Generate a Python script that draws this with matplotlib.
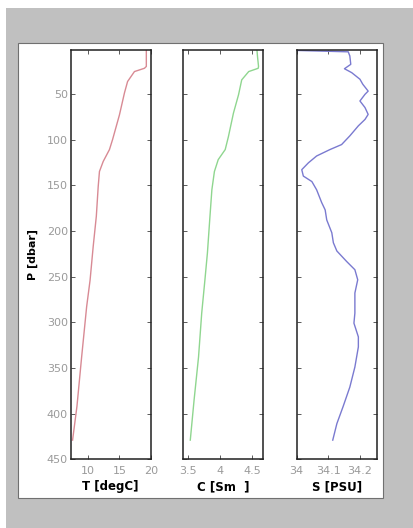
import matplotlib

matplotlib.use("Agg")
import matplotlib.pyplot as plt
from matplotlib.patches import Rectangle

# CTD cast: pressure [dbar] against each variable
p_t = [2, 20, 22, 25.6, 36.5, 49, 73, 100, 111, 124, 135, 151.5, 184, 217, 254, 283, 338, 392, 429]
temp = [19.3, 19.3, 19.0, 17.4, 16.3, 15.8, 15.0, 13.9, 13.4, 12.4, 11.8, 11.6, 11.3, 10.8, 10.3, 9.75, 8.95, 8.2, 7.5]

p_c = [2, 10, 20, 22, 25.6, 34.7, 51, 71, 97, 111, 122, 135, 155, 184, 224, 254, 290, 338, 385, 429]
cond = [4.58, 4.59, 4.605, 4.6, 4.45, 4.34, 4.29, 4.21, 4.13, 4.08, 3.97, 3.91, 3.87, 3.84, 3.80, 3.76, 3.71, 3.66, 3.59, 3.53]

p_s = [2, 4, 8.5, 17.7, 22.5, 26.8, 34, 39.5, 47, 50.5, 57.8, 65, 72.5, 78, 85, 96, 105.5,
       111, 118, 125.5, 133, 140, 146, 155, 169, 177, 188, 202, 213, 222, 233.5, 242.5,
       253.5, 268, 290, 301, 316, 327, 349, 371, 392, 411, 429]
sal = [33.95, 34.163, 34.168, 34.171, 34.151, 34.174, 34.2, 34.209, 34.226, 34.216, 34.2,
       34.216, 34.226, 34.216, 34.195, 34.168, 34.142, 34.105, 34.063, 34.037, 34.016,
       34.021, 34.048, 34.063, 34.079, 34.09, 34.095, 34.111, 34.116, 34.127, 34.158,
       34.184, 34.193, 34.184, 34.184, 34.181, 34.195, 34.195, 34.184, 34.168, 34.147,
       34.127, 34.114]

W, H = 414, 528
fig = plt.figure(figsize=(W / 100, H / 100), dpi=100)
fig.patch.set_facecolor("#c0c0c0")

# white screenshot panel behind the axes
for rect, ec in [
    ((0, 0, 6 / W, 1), "none"),
    ((0, 1 - 8 / H, 1, 8 / H), "none"),
    ((18 / W, 1 - 498 / H, 365 / W, 455 / H), "#707070"),
]:
    fig.patches.append(Rectangle(rect[:2], rect[2], rect[3], transform=fig.transFigure,
                                 facecolor="white", edgecolor=ec, linewidth=0.8, zorder=-5))


def ax_rect(x0, x1, y0=50, y1=459.3):
    return [x0 / W, 1 - y1 / H, (x1 - x0) / W, (y1 - y0) / H]


panels = [
    (70.7, 150.7, temp, p_t, "#d88a94", (7.2, 20.0), [10, 15, 20], ["10", "15", "20"], "T [degC]"),
    (183.3, 263.3, cond, p_c, "#8fd68f", (3.42, 4.68), [3.5, 4, 4.5], ["3.5", "4", "4.5"], "C [Sm  ]"),
    (296.7, 376.7, sal, p_s, "#7a7ad0", (34.0, 34.253), [34, 34.1, 34.2], ["34", "34.1", "34.2"], "S [PSU]"),
]

for i, (x0, x1, xs, ps, color, xlim, xt, xtl, label) in enumerate(panels):
    ax = fig.add_axes(ax_rect(x0, x1))
    ax.patch.set_facecolor("white")
    ax.plot(xs, ps, color=color, linewidth=1.0)
    ax.set_xlim(*xlim)
    ax.set_ylim(450, 2)
    ax.set_xticks(xt)
    ax.set_xticklabels(xtl)
    ax.set_yticks(range(50, 451, 50))
    if i == 0:
        ax.set_ylabel("P [dbar]", fontsize=8, fontweight="bold", labelpad=6)
    else:
        ax.set_yticklabels([])
    ax.tick_params(direction="in", top=True, right=True, length=3, width=0.6,
                   labelsize=8, labelcolor="#9a9a9a", color="#404040", pad=2)
    ax.tick_params(axis="x", pad=5)
    for s in ax.spines.values():
        s.set_linewidth(1.1)
        s.set_color("#202020")
    ax.set_xlabel(label, fontsize=8.5, fontweight="bold", labelpad=3)

fig.savefig("out.png", dpi=100, facecolor=fig.get_facecolor())
